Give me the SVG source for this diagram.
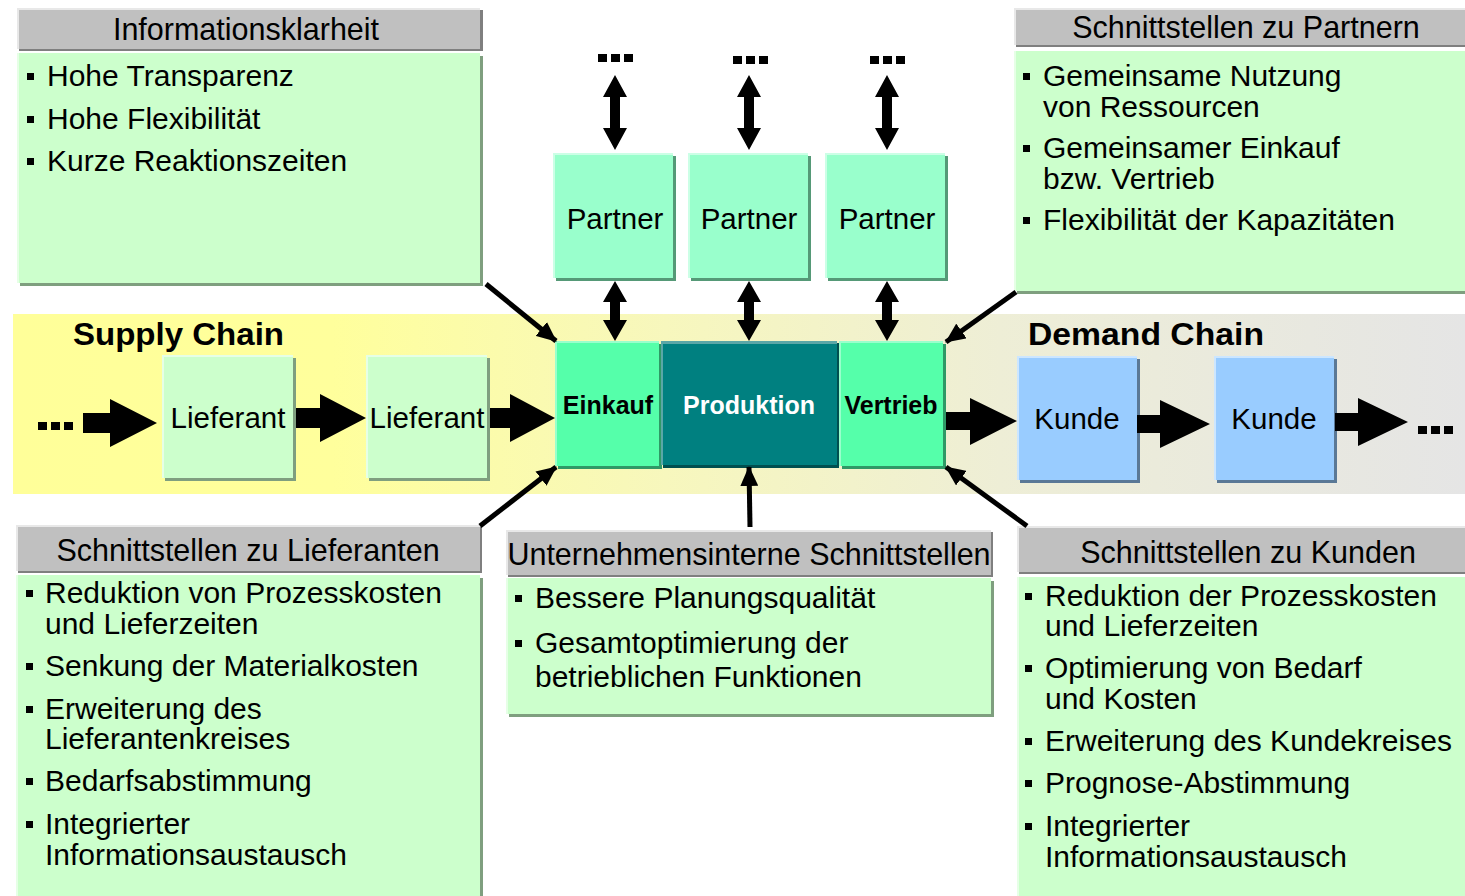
<svg xmlns="http://www.w3.org/2000/svg" width="1465" height="896" viewBox="0 0 1465 896">
<defs>
<linearGradient id="band" x1="0" y1="0" x2="1" y2="0">
<stop offset="0" stop-color="#ffff99"/>
<stop offset="0.22" stop-color="#ffff9c"/>
<stop offset="0.45" stop-color="#f7f7bd"/>
<stop offset="0.68" stop-color="#eeeed6"/>
<stop offset="1" stop-color="#e5e5e5"/>
</linearGradient>
<marker id="ah" viewBox="0 0 20 18" refX="19" refY="9" markerWidth="20" markerHeight="18" markerUnits="userSpaceOnUse" orient="auto">
<path d="M0,0 L20,9 L0,18 Z" fill="#000"/>
</marker>
<style>
text{font-family:"Liberation Sans",Arial,sans-serif;fill:#000}
.t{font-size:30.5px;text-anchor:middle}
.b{font-size:30px}
.n{font-size:29.5px;text-anchor:middle}
.bold{font-weight:bold}
.hd{fill:#c0c0c0}
.hds{fill:#7f7f7f}
.hl{fill:#e8e8e8}
.bd{fill:#ccffcc}
.bds{fill:#7f9f7f}
.bdl{fill:#e6ffe6}
.pt{fill:#99ffcc}
.pts{fill:#559977}
.ptl{fill:#ccffe6}
.ek{fill:#55ffaa}
.eks{fill:#2f9966}
.ekl{fill:#99ffcc}
.ku{fill:#99ccff}
.kus{fill:#5a7896}
.kul{fill:#cce6ff}
.blk{fill:#000}
.con{stroke:#000;stroke-width:5;fill:none;marker-end:url(#ah)}
</style>
</defs>

<rect x="13" y="314" width="1452" height="180" fill="url(#band)"/>
<text x="73" y="345" class="bold" font-size="31" textLength="211" lengthAdjust="spacingAndGlyphs">Supply Chain</text>
<text x="1028" y="345" class="bold" font-size="31" textLength="236" lengthAdjust="spacingAndGlyphs">Demand Chain</text>

<!-- Info box top-left -->
<g id="informationsklarheit">
<rect x="19" y="10" width="464" height="41" class="hds"/>
<rect x="17" y="8" width="463" height="41" class="hd"/>
<rect x="17" y="8" width="463" height="2" class="hl"/>
<rect x="17" y="8" width="2" height="41" class="hl"/>
<text x="246" y="40" class="t">Informationsklarheit</text>
<rect x="20" y="56" width="463" height="230" class="bds"/>
<rect x="17" y="53" width="463" height="230" class="bd"/>
<rect x="17" y="53" width="2" height="230" class="bdl"/>
<rect x="27" y="73" width="7" height="7" class="blk"/>
<text x="47" y="86" class="b">Hohe Transparenz</text>
<rect x="27" y="116" width="7" height="7" class="blk"/>
<text x="47" y="129" class="b">Hohe Flexibilität</text>
<rect x="27" y="158" width="7" height="7" class="blk"/>
<text x="47" y="171" class="b">Kurze Reaktionszeiten</text>
</g>

<!-- Partner box top-right -->
<g id="schnittstellen-partnern">
<rect x="1016" y="10" width="460" height="37" class="hds"/>
<rect x="1014" y="8" width="460" height="37" class="hd"/>
<rect x="1014" y="8" width="460" height="2" class="hl"/>
<rect x="1014" y="8" width="2" height="37" class="hl"/>
<text x="1246" y="38" class="t">Schnittstellen zu Partnern</text>
<rect x="1017" y="54" width="460" height="240" class="bds"/>
<rect x="1014" y="51" width="460" height="240" class="bd"/>
<rect x="1014" y="51" width="2" height="240" class="bdl"/>
<rect x="1023" y="73" width="7" height="7" class="blk"/>
<text x="1043" y="86" class="b">Gemeinsame Nutzung</text>
<text x="1043" y="117" class="b">von Ressourcen</text>
<rect x="1023" y="145" width="7" height="7" class="blk"/>
<text x="1043" y="158" class="b">Gemeinsamer Einkauf</text>
<text x="1043" y="189" class="b">bzw. Vertrieb</text>
<rect x="1023" y="217" width="7" height="7" class="blk"/>
<text x="1043" y="230" class="b">Flexibilität der Kapazitäten</text>
</g>

<!-- Partners -->
<g id="partner1">
<rect x="556" y="156" width="120" height="125" class="pts"/>
<rect x="553" y="153" width="120" height="125" class="pt"/>
<rect x="553" y="153" width="120" height="2" class="ptl"/>
<rect x="553" y="153" width="2" height="125" class="ptl"/>
<text x="615" y="229" class="n">Partner</text>
</g>
<g id="partner2">
<rect x="691" y="156" width="120" height="125" class="pts"/>
<rect x="688" y="153" width="120" height="125" class="pt"/>
<rect x="688" y="153" width="120" height="2" class="ptl"/>
<rect x="688" y="153" width="2" height="125" class="ptl"/>
<text x="749" y="229" class="n">Partner</text>
</g>
<g id="partner3">
<rect x="828" y="156" width="120" height="125" class="pts"/>
<rect x="825" y="153" width="120" height="125" class="pt"/>
<rect x="825" y="153" width="120" height="2" class="ptl"/>
<rect x="825" y="153" width="2" height="125" class="ptl"/>
<text x="887" y="229" class="n">Partner</text>
</g>

<!-- Lieferanten -->
<g id="lieferant1">
<rect x="165" y="358" width="131" height="123" class="bds"/>
<rect x="162" y="355" width="131" height="123" class="bd"/>
<rect x="162" y="355" width="131" height="2" class="bdl"/>
<rect x="162" y="355" width="2" height="123" class="bdl"/>
<text x="228" y="428" class="n">Lieferant</text>
</g>
<g id="lieferant2">
<rect x="369" y="358" width="121" height="123" class="bds"/>
<rect x="366" y="355" width="121" height="123" class="bd"/>
<rect x="366" y="355" width="121" height="2" class="bdl"/>
<rect x="366" y="355" width="2" height="123" class="bdl"/>
<text x="427" y="428" class="n">Lieferant</text>
</g>

<!-- Company -->
<g id="einkauf">
<rect x="558" y="344" width="104" height="125" class="eks"/>
<rect x="555" y="341" width="104" height="125" class="ek"/>
<rect x="555" y="341" width="104" height="2" class="ekl"/>
<rect x="555" y="341" width="2" height="125" class="ekl"/>
<text x="608" y="414" class="bold" font-size="25" text-anchor="middle">Einkauf</text>
</g>
<g id="produktion">
<rect x="663" y="343" width="176" height="125" fill="#004f4f"/>
<rect x="661" y="341" width="176" height="124" fill="#008080"/>
<rect x="661" y="341" width="176" height="3" fill="#5aa7a7"/>
<rect x="661" y="341" width="2" height="124" fill="#5aa7a7"/>
<text x="749" y="414" class="bold" font-size="25" text-anchor="middle" style="fill:#fff">Produktion</text>
</g>
<g id="vertrieb">
<rect x="842" y="344" width="104" height="125" class="eks"/>
<rect x="839" y="341" width="104" height="125" class="ek"/>
<rect x="839" y="341" width="104" height="2" class="ekl"/>
<rect x="839" y="341" width="2" height="125" class="ekl"/>
<text x="891" y="414" class="bold" font-size="25" text-anchor="middle">Vertrieb</text>
</g>

<!-- Kunden -->
<g id="kunde1">
<rect x="1020" y="359" width="120" height="124" class="kus"/>
<rect x="1017" y="356" width="120" height="124" class="ku"/>
<rect x="1017" y="356" width="120" height="2" class="kul"/>
<rect x="1017" y="356" width="2" height="124" class="kul"/>
<text x="1077" y="429" class="n">Kunde</text>
</g>
<g id="kunde2">
<rect x="1217" y="359" width="120" height="124" class="kus"/>
<rect x="1214" y="356" width="120" height="124" class="ku"/>
<rect x="1214" y="356" width="120" height="2" class="kul"/>
<rect x="1214" y="356" width="2" height="124" class="kul"/>
<text x="1274" y="429" class="n">Kunde</text>
</g>

<!-- Bottom-left -->
<g id="schnittstellen-lieferanten">
<rect x="18" y="527" width="464" height="46" class="hds"/>
<rect x="16" y="525" width="464" height="46" class="hd"/>
<rect x="16" y="525" width="464" height="2" class="hl"/>
<rect x="16" y="525" width="2" height="46" class="hl"/>
<text x="248" y="561" class="t">Schnittstellen zu Lieferanten</text>
<rect x="19" y="578" width="464" height="330" class="bds"/>
<rect x="16" y="575" width="464" height="330" class="bd"/>
<rect x="16" y="575" width="2" height="330" class="bdl"/>
<rect x="26" y="590" width="7" height="7" class="blk"/>
<text x="45" y="603" class="b">Reduktion von Prozesskosten</text>
<text x="45" y="634" class="b">und Lieferzeiten</text>
<rect x="26" y="663" width="7" height="7" class="blk"/>
<text x="45" y="676" class="b">Senkung der Materialkosten</text>
<rect x="26" y="706" width="7" height="7" class="blk"/>
<text x="45" y="719" class="b">Erweiterung des</text>
<text x="45" y="749" class="b">Lieferantenkreises</text>
<rect x="26" y="778" width="7" height="7" class="blk"/>
<text x="45" y="791" class="b">Bedarfsabstimmung</text>
<rect x="26" y="821" width="7" height="7" class="blk"/>
<text x="45" y="834" class="b">Integrierter</text>
<text x="45" y="865" class="b">Informationsaustausch</text>
</g>

<!-- Bottom-middle -->
<g id="unternehmensinterne">
<rect x="508" y="532" width="485" height="45" class="hds"/>
<rect x="506" y="530" width="485" height="45" class="hd"/>
<rect x="506" y="530" width="485" height="2" class="hl"/>
<rect x="506" y="530" width="2" height="45" class="hl"/>
<text x="749" y="565" class="t">Unternehmensinterne Schnittstellen</text>
<rect x="509" y="581" width="485" height="136" class="bds"/>
<rect x="506" y="578" width="485" height="136" class="bd"/>
<rect x="506" y="578" width="2" height="136" class="bdl"/>
<rect x="515" y="595" width="7" height="7" class="blk"/>
<text x="535" y="608" class="b">Bessere Planungsqualität</text>
<rect x="515" y="640" width="7" height="7" class="blk"/>
<text x="535" y="653" class="b">Gesamtoptimierung der</text>
<text x="535" y="687" class="b">betrieblichen Funktionen</text>
</g>

<!-- Bottom-right -->
<g id="schnittstellen-kunden">
<rect x="1019" y="528" width="460" height="46" class="hds"/>
<rect x="1017" y="526" width="460" height="46" class="hd"/>
<rect x="1017" y="526" width="460" height="2" class="hl"/>
<rect x="1017" y="526" width="2" height="46" class="hl"/>
<text x="1248" y="563" class="t">Schnittstellen zu Kunden</text>
<rect x="1020" y="580" width="460" height="330" class="bds"/>
<rect x="1017" y="577" width="460" height="330" class="bd"/>
<rect x="1017" y="577" width="2" height="330" class="bdl"/>
<rect x="1025" y="593" width="7" height="7" class="blk"/>
<text x="1045" y="606" class="b">Reduktion der Prozesskosten</text>
<text x="1045" y="636" class="b">und Lieferzeiten</text>
<rect x="1025" y="665" width="7" height="7" class="blk"/>
<text x="1045" y="678" class="b">Optimierung von Bedarf</text>
<text x="1045" y="709" class="b">und Kosten</text>
<rect x="1025" y="738" width="7" height="7" class="blk"/>
<text x="1045" y="751" class="b">Erweiterung des Kundekreises</text>
<rect x="1025" y="780" width="7" height="7" class="blk"/>
<text x="1045" y="793" class="b">Prognose-Abstimmung</text>
<rect x="1025" y="823" width="7" height="7" class="blk"/>
<text x="1045" y="836" class="b">Integrierter</text>
<text x="1045" y="867" class="b">Informationsaustausch</text>
</g>

<!-- Connectors -->
<g id="connectors">
<!-- ellipsis dots -->
<g class="blk">
<rect x="598" y="54" width="9" height="8"/><rect x="611" y="54" width="9" height="8"/><rect x="624" y="54" width="9" height="8"/>
<rect x="733" y="56" width="9" height="8"/><rect x="746" y="56" width="9" height="8"/><rect x="759" y="56" width="9" height="8"/>
<rect x="870" y="56" width="9" height="8"/><rect x="883" y="56" width="9" height="8"/><rect x="896" y="56" width="9" height="8"/>
<rect x="38" y="422" width="9" height="8"/><rect x="51" y="422" width="9" height="8"/><rect x="64" y="422" width="9" height="8"/>
<rect x="1418" y="426" width="9" height="8"/><rect x="1431" y="426" width="9" height="8"/><rect x="1444" y="426" width="9" height="8"/>
</g>
<!-- double arrows top -->
<g class="blk">
<polygon points="615,75 627,97 620,97 620,128 627,128 615,150 603,128 610,128 610,97 603,97"/>
<polygon points="749,75 761,97 754,97 754,128 761,128 749,150 737,128 744,128 744,97 737,97"/>
<polygon points="887,75 899,97 892,97 892,128 899,128 887,150 875,128 882,128 882,97 875,97"/>
<polygon points="615,281 627,302 620,302 620,320 627,320 615,341 603,320 610,320 610,302 603,302"/>
<polygon points="749,281 761,302 754,302 754,320 761,320 749,341 737,320 744,320 744,302 737,302"/>
<polygon points="887,281 899,302 892,302 892,320 899,320 887,341 875,320 882,320 882,302 875,302"/>
</g>
<!-- block arrows -->
<g class="blk">
<polygon points="83,413 110,413 110,399 157,423 110,447 110,433 83,433"/>
<polygon points="296,408 320,408 320,394 366,418 320,442 320,428 296,428"/>
<polygon points="490,408 510,408 510,394 555,418 510,442 510,428 490,428"/>
<polygon points="946,412 970,412 970,398 1017,421 970,445 970,430 946,430"/>
<polygon points="1137,415 1160,415 1160,400 1210,424 1160,448 1160,433 1137,433"/>
<polygon points="1335,413 1358,413 1358,398 1408,422 1358,446 1358,431 1335,431"/>
</g>
<!-- diagonal connectors -->
<line x1="486" y1="284" x2="556" y2="341" class="con"/>
<line x1="1016" y1="292" x2="946" y2="342" class="con"/>
<line x1="480" y1="526" x2="556" y2="467" class="con"/>
<line x1="750" y1="527" x2="749" y2="467" class="con"/>
<line x1="1027" y1="526" x2="946" y2="467" class="con"/>
</g>
</svg>
